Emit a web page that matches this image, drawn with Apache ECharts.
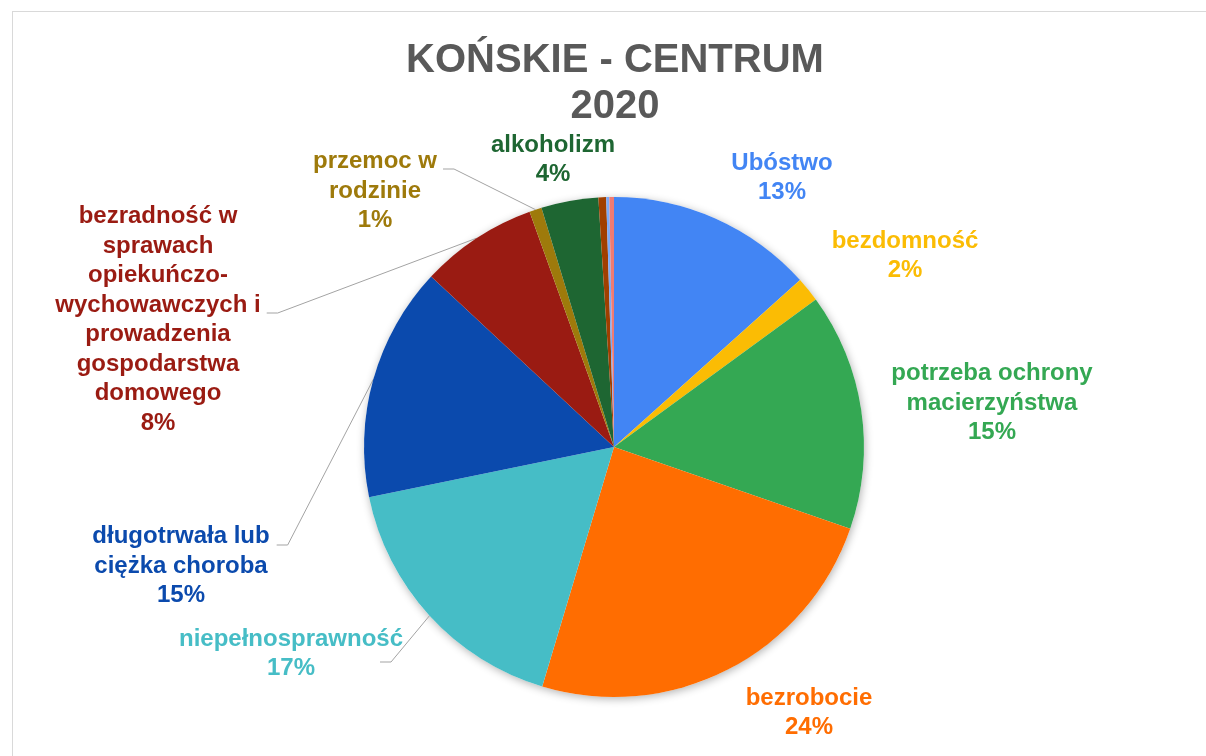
<!DOCTYPE html>
<html>
<head>
<meta charset="utf-8">
<script src="https://cdn.jsdelivr.net/npm/echarts@6/dist/echarts.min.js"></script>
<style>
  html, body { margin: 0; padding: 0; background: #fff; overflow: hidden; }
  #frame { position: absolute; left: 12px; top: 11px; width: 1300px; height: 800px; border: 1px solid #d9d9d9; }
  #chart { position: absolute; left: 13px; top: 12px; width: 1204px; height: 744px; }
</style>
</head>
<body>
<div id="frame"></div>
<div id="chart"></div>
<script>
// categories, clockwise from 12 o'clock (line breaks as drawn in the chart)
var categories = [
  'Ubóstwo',
  'bezdomność',
  'potrzeba ochrony\nmacierzyństwa',
  'bezrobocie',
  'niepełnosprawność',
  'długotrwała lub\nciężka choroba',
  'bezradność w\nsprawach\nopiekuńczo-\nwychowawczych i\nprowadzenia\ngospodarstwa\ndomowego',
  'przemoc w\nrodzinie',
  'alkoholizm',
  'narkomania',
  'trudności po zwolnieniu z zakładu karnego',
  'zdarzenie losowe'
];
var values = [13.4, 1.6, 15.4, 24.4, 17.2, 15.2, 7.6, 0.8, 3.7, 0.5, 0.2, 0.3];
var colors = ['#4285f4', '#fbbc04', '#34a853', '#ff6d01', '#46bdc6', '#0b4aad',
  '#9a1b12', '#9e7a0b', '#1e6632', '#a03f00', '#7baaf7', '#f07b72'];
var labelled = [true, true, true, true, true, true, true, true, true, false, false, false];
var withLine = [false, false, false, false, true, true, true, true, false, false, false, false];

// label block centres (chart pixels) and where the leader line meets the label
var labelPos = {
  0: [769, 166], 1: [892, 244], 2: [979, 391], 3: [796, 701],
  4: [278, 642], 5: [168, 554], 6: [145, 308], 7: [362, 179], 8: [540, 148]
};
var leaderAt = { 4: [-23, 8], 5: [7, -21], 6: [6, -7], 7: [6, -22] };

var total = values.reduce(function (a, b) { return a + b; }, 0);

var pieData = [];
for (var i = 0; i < categories.length; i++) {
  pieData.push({
    name: categories[i],
    value: values[i],
    itemStyle: { color: colors[i] },
    label: { show: labelled[i], color: colors[i] },
    labelLine: { show: withLine[i] }
  });
}

var chart = echarts.init(document.getElementById('chart'));
var option = {
  animation: false,
  title: {
    text: 'KOŃSKIE - CENTRUM\n2020',
    left: 'center',
    top: 21,
    textStyle: {
      fontFamily: 'Liberation Sans, Arial, sans-serif',
      fontSize: 40,
      fontWeight: 'bold',
      color: '#595959',
      lineHeight: 46
    }
  },
  series: [
    {
      // soft shadow under the pie
      type: 'pie',
      silent: true,
      center: [601, 435],
      radius: 250,
      z: 1,
      label: { show: false },
      labelLine: { show: false },
      itemStyle: {
        color: '#ffffff',
        shadowBlur: 8,
        shadowColor: 'rgba(0,0,0,0.3)',
        shadowOffsetX: 1,
        shadowOffsetY: 2
      },
      data: [1]
    },
    {
      type: 'pie',
      center: [601, 435],
      radius: 250,
      startAngle: 90,
      clockwise: true,
      z: 2,
      avoidLabelOverlap: false,
      itemStyle: { borderWidth: 0 },
      label: {
        position: 'outside',
        fontFamily: 'Liberation Sans, Arial, sans-serif',
        fontSize: 24,
        fontWeight: 'bold',
        lineHeight: 29.5,
        align: 'center',
        formatter: function (p) {
          return p.name + '\n' + Math.round(p.value / total * 100) + '%';
        }
      },
      labelLine: {
        length: 10,
        length2: 10,
        smooth: false,
        lineStyle: { color: '#a3a3a3', width: 1 }
      },
      labelLayout: function (params) {
        var i = params.dataIndex;
        var p = labelPos[i];
        if (!p) return {};
        var out = { x: p[0], y: p[1], align: 'center', verticalAlign: 'middle' };
        var l = leaderAt[i];
        if (l && params.labelLinePoints) {
          var ex = p[0] + params.labelRect.width / 2 + l[0];
          var ey = p[1] + l[1];
          out.labelLinePoints = [params.labelLinePoints[0], [ex + 11, ey], [ex, ey]];
        }
        return out;
      },
      data: pieData
    }
  ]
};
chart.setOption(option);
</script>
</body>
</html>
